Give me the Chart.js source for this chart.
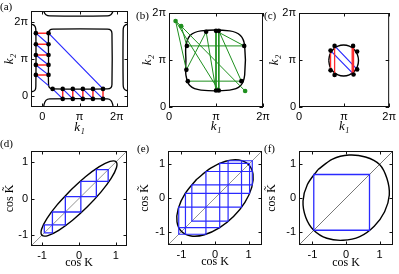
<!DOCTYPE html>
<html>
<head>
<meta charset="utf-8">
<script src="https://cdn.jsdelivr.net/npm/chart.js@4.4.1/dist/chart.umd.min.js"></script>
<style>
  body { margin: 0; background: #fff; }
  #fig { position: relative; width: 399px; height: 274px; overflow: hidden; background: #fff; }
  #fig canvas { position: absolute; }
</style>
</head>
<body>
<div id="fig"></div>
<script>
// ---- tick marks ----
const kTicks = [0, 1, 2];              // k in units of pi
const kTickLabels = ['0', 'π', '2π'];
const cosTicks = [-1, 0, 1];
const cosTickLabels = ['-1', '0', '1'];

// ---- (a) contour pieces, k1/pi vs k2/pi ----
const aInnerX = [0.17, 0.17, 0.20, 0.29, 1.75, 1.84, 1.87, 1.87, 1.84, 1.75, 0.29, 0.20, 0.17, 0.17];
const aInnerY = [1.00, 1.69, 1.78, 1.81, 1.81, 1.78, 1.69, 0.31, 0.22, 0.19, 0.19, 0.22, 0.31, 1.00];
const aLeftX = [-0.35, -0.25, -0.19, -0.17, -0.17, -0.19, -0.25, -0.35];
const aLeftY = [1.94, 1.93, 1.88, 1.78, 0.26, 0.16, 0.12, 0.11];
const aRightX = [2.35, 2.25, 2.19, 2.17, 2.17, 2.19, 2.25, 2.35];
const aRightY = [1.95, 1.93, 1.88, 1.78, 0.30, 0.20, 0.15, 0.14];
const aTopX = [0.04, 0.05, 0.10, 0.20, 1.75, 1.84, 1.89, 1.90];
const aTopY = [2.35, 2.27, 2.20, 2.17, 2.17, 2.20, 2.27, 2.35];
const aBottomX = [0.04, 0.05, 0.10, 0.20, 1.75, 1.84, 1.89, 1.90];
const aBottomY = [-0.35, -0.23, -0.12, -0.08, -0.08, -0.12, -0.23, -0.35];
// (a) orbit segments [x1, y1, x2, y2]
const aRed = [
  [-0.17, 1.70, 0.17, 1.70], [-0.17, 1.40, 0.17, 1.40], [-0.17, 1.11, 0.17, 1.11],
  [-0.17, 0.84, 0.17, 0.84], [-0.17, 0.57, 0.17, 0.57],
  [0.55, -0.08, 0.55, 0.19], [0.82, -0.08, 0.82, 0.19], [1.09, -0.08, 1.09, 0.19],
  [1.36, -0.08, 1.36, 0.19], [1.63, -0.08, 1.63, 0.19]
];
const aBlue = [
  [-0.17, 1.70, 0.17, 1.40], [-0.17, 1.40, 0.17, 1.11], [-0.17, 1.11, 0.17, 0.84],
  [-0.17, 0.84, 0.17, 0.57], [-0.17, 0.57, 0.17, 0.28],
  [0.28, 0.19, 0.55, -0.08], [0.55, 0.19, 0.82, -0.08], [0.82, 0.19, 1.09, -0.08],
  [1.09, 0.19, 1.36, -0.08], [1.36, 0.19, 1.63, -0.08],
  [1.63, 0.19, 0.17, 1.70]
];
const aDotX = [-0.17, 0.17, -0.17, 0.17, -0.17, 0.17, -0.17, 0.17, -0.17, 0.17,
               0.28, 0.55, 0.82, 1.09, 1.36, 1.63, 0.55, 0.82, 1.09, 1.36, 1.63];
const aDotY = [1.70, 1.70, 1.40, 1.40, 1.11, 1.11, 0.84, 0.84, 0.57, 0.57,
               0.19, 0.19, 0.19, 0.19, 0.19, 0.19, -0.08, -0.08, -0.08, -0.08, -0.08];

// ---- (b) ----
const bCurveX = [0.36, 0.36, 0.45, 0.68, 1.29, 1.52, 1.61, 1.61, 1.52, 1.29, 0.68, 0.45, 0.36, 0.36];
const bCurveY = [0.99, 1.30, 1.52, 1.62, 1.62, 1.52, 1.30, 0.68, 0.45, 0.36, 0.36, 0.45, 0.68, 0.99];
const bPathX = [0.40, 1.54, 1.06, 1.06, 0.14, 0.26, 0.38, 1.60, 1.00, 1.00, 0.79, 0.37, 0.14, null, 0.26, 1.62];
const bPathY = [0.55, 0.55, 1.62, 0.35, 1.83, 1.72, 1.30, 1.30, 1.62, 0.35, 1.60, 0.79, 1.83, null, 1.72, 0.34];
const bDotX = [0.79, 1.00, 1.06, 0.38, 1.60, 0.37, 0.40, 1.00, 1.06, 1.54];
const bDotY = [1.60, 1.62, 1.62, 1.30, 1.30, 0.79, 0.55, 0.35, 0.35, 0.55];
const bGreenDotX = [0.14, 0.26, 1.62];
const bGreenDotY = [1.83, 1.72, 0.34];

// ---- (c) ----
const cCurveX = [0.66, 0.685, 0.757, 0.864, 0.99, 1.116, 1.223, 1.295, 1.32, 1.295, 1.223, 1.116, 0.99, 0.864, 0.757, 0.685, 0.66];
const cCurveY = [0.99, 1.116, 1.223, 1.295, 1.32, 1.295, 1.223, 1.116, 0.99, 0.864, 0.757, 0.685, 0.66, 0.685, 0.757, 0.864, 0.99];
const cRed = [[0.70, 0.78, 0.70, 1.20], [0.79, 0.68, 0.79, 1.30], [1.18, 0.69, 1.18, 1.30], [1.21, 0.70, 1.21, 1.29]];
const cBlue = [[0.70, 1.20, 1.21, 0.70], [0.79, 1.30, 1.29, 0.80]];
const cDotX = [0.79, 1.20, 0.70, 1.29, 0.70, 1.29, 0.79, 1.21];
const cDotY = [1.30, 1.30, 1.20, 1.18, 0.78, 0.80, 0.68, 0.69];

// ---- (d)-(f): cos K vs cos K~ ----
const diagEnds = [-1.6, 1.6];
const dEllX = [-0.226, 0.175, 0.550, 0.841, 1.004, 1.014, 0.870, 0.593, 0.226, -0.175, -0.550, -0.841, -1.004, -1.014, -0.870, -0.593];
const dEllY = [0.226, 0.593, 0.870, 1.014, 1.004, 0.841, 0.550, 0.175, -0.226, -0.593, -0.870, -1.014, -1.004, -0.841, -0.550, -0.175];
const dSteps = [-0.94, -0.72, -0.37, 0.05, 0.47, 0.79];

const eEllX = [-0.552, -0.128, 0.315, 0.710, 0.997, 1.132, 1.095, 0.891, 0.552, 0.128, -0.315, -0.710, -0.997, -1.132, -1.095, -0.891];
const eEllY = [0.552, 0.891, 1.095, 1.132, 0.997, 0.710, 0.315, -0.128, -0.552, -0.891, -1.095, -1.132, -0.997, -0.710, -0.315, 0.128];
const eSteps = [1.03, 0.14, -0.88, -1.08, -0.27, 0.79, 1.11, 0.39, -0.69];

const fEllX = [-0.84, -0.40, 0.09, 0.58, 1.00, 1.22, 1.29, 1.15, 0.84, 0.41, -0.09, -0.57, -0.96, -1.20, -1.28, -1.15];
const fEllY = [0.84, 1.16, 1.28, 1.22, 1.00, 0.58, 0.09, -0.41, -0.84, -1.15, -1.26, -1.20, -0.96, -0.57, -0.09, 0.40];
const fSteps = [-0.96, 0.70];

// ---- helpers ----
const fig = document.getElementById('fig');
const BLACK = '#000', BLUE = '#2a2aff', RED = '#ff2a2a', GREEN = '#1e8f1e';

function pts(xs, ys, close) {
  const out = xs.map((x, i) => ({ x: x, y: ys[i] }));
  if (close) out.push({ x: xs[0], y: ys[0] });
  return out;
}
function segs(list) {
  const out = [];
  list.forEach(s => out.push({ x: s[0], y: s[1] }, { x: s[2], y: s[3] }, { x: null, y: null }));
  return out;
}
function boxes(steps) {
  const out = [];
  for (let i = 0; i < steps.length - 1; i++) {
    const p = steps[i], q = steps[i + 1];
    out.push({ x: p, y: p }, { x: p, y: q }, { x: q, y: q }, { x: q, y: p }, { x: p, y: p }, { x: null, y: null });
  }
  return out;
}
function line(data, color, width, tension) {
  return { data: data, showLine: true, borderColor: color, borderWidth: width, pointRadius: 0,
           tension: tension || 0, spanGaps: false, fill: false };
}
function dots(data, color) {
  return { data: data, showLine: false, pointRadius: 2.3, pointBackgroundColor: color,
           pointBorderWidth: 0, backgroundColor: color };
}

const framePlugin = {
  id: 'frame',
  afterDraw(chart, args, opts) {
    const { ctx, chartArea: a, scales: { x, y } } = chart;
    ctx.save();
    ctx.strokeStyle = '#111';
    ctx.lineWidth = 1;
    ctx.strokeRect(a.left + 0.5, a.top + 0.5, a.right - a.left - 1, a.bottom - a.top - 1);
    ctx.beginPath();
    x.ticks.forEach(t => {
      const px = Math.round(x.getPixelForValue(t.value)) + 0.5;
      ctx.moveTo(px, a.bottom); ctx.lineTo(px, a.bottom - 3.5);
      ctx.moveTo(px, a.top); ctx.lineTo(px, a.top + 3.5);
    });
    y.ticks.forEach(t => {
      const py = Math.round(y.getPixelForValue(t.value)) + 0.5;
      ctx.moveTo(a.left, py); ctx.lineTo(a.left + 3.5, py);
      ctx.moveTo(a.right, py); ctx.lineTo(a.right - 3.5, py);
    });
    ctx.stroke();
    ctx.fillStyle = '#000';
    ctx.font = '11px "Liberation Serif", serif';
    ctx.fillText(opts.letter, opts.lx, opts.ly);
    ctx.restore();
  }
};

const tickFont = { family: '"Liberation Sans", Arial, sans-serif', size: 11 };
const kTitleFont = { family: '"Liberation Serif", serif', size: 13, style: 'italic', lineHeight: 1 };
const cosTitleFont = { family: '"Liberation Serif", serif', size: 12, lineHeight: 1 };

function axis(range, vals, labels, title, titleFont, titlePad, size, horizontal) {
  return {
    type: 'linear', min: range[0], max: range[1],
    afterBuildTicks: s => { s.ticks = vals.map(v => ({ value: v })); },
    afterFit: s => { if (horizontal) s.height = size; else s.width = size; },
    grid: { display: false, drawTicks: false },
    border: { display: false },
    ticks: { autoSkip: false, maxRotation: 0, padding: 3, color: '#000', font: tickFont,
             callback: (v, i) => labels[i] },
    title: { display: true, text: title, color: '#000', font: titleFont,
             padding: horizontal ? { top: 0, bottom: titlePad } : { top: titlePad, bottom: 0 } }
  };
}

function makePanel(p) {
  const [bx, by, bw, bh] = p.box;
  const [ax0, ay0, ax1, ay1] = p.area;
  const cv = document.createElement('canvas');
  cv.width = bw; cv.height = bh;
  cv.style.left = bx + 'px'; cv.style.top = by + 'px';
  cv.style.width = bw + 'px'; cv.style.height = bh + 'px';
  fig.appendChild(cv);
  new Chart(cv, {
    type: 'scatter',
    data: { datasets: p.datasets },
    options: {
      responsive: false, animation: false, devicePixelRatio: 1, events: [],
      layout: { padding: { left: 0, bottom: 0, top: ay0 - by, right: bx + bw - ax1 } },
      plugins: {
        legend: { display: false }, tooltip: { enabled: false },
        frame: { letter: p.letter, lx: p.letterAt[0] - bx, ly: p.letterAt[1] - by }
      },
      scales: {
        x: axis(p.range, p.ticks, p.labels, p.xTitle, p.titleFont, p.xPad, by + bh - ay1, true),
        y: axis(p.range, p.ticks, p.labels, p.yTitle, p.titleFont, p.yPad, ax0 - bx, false)
      }
    },
    plugins: [framePlugin]
  });
}

const diag = [{ x: diagEnds[0], y: diagEnds[0] }, { x: diagEnds[1], y: diagEnds[1] }];

makePanel({
  box: [0, 0, 133, 137], area: [31, 11, 128, 107], range: [-0.3, 2.3],
  ticks: kTicks, labels: kTickLabels, xTitle: 'k₁', yTitle: 'k₂', titleFont: kTitleFont,
  xPad: 2.5, yPad: 3.5, letter: '(a)', letterAt: [0, 10],
  datasets: [
    dots(pts(aDotX, aDotY), BLACK),
    line(segs(aRed), RED, 1.5),
    line(segs(aBlue), BLUE, 1.2),
    line(pts(aInnerX, aInnerY), BLACK, 1.3, 0.3),
    line(pts(aLeftX, aLeftY), BLACK, 1.3, 0.3),
    line(pts(aRightX, aRightY), BLACK, 1.3, 0.3),
    line(pts(aTopX, aTopY), BLACK, 1.3, 0.3),
    line(pts(aBottomX, aBottomY), BLACK, 1.3, 0.3)
  ]
});

makePanel({
  box: [133, 0, 145, 137], area: [169, 13, 263, 107], range: [0, 2],
  ticks: kTicks, labels: kTickLabels, xTitle: 'k₁', yTitle: 'k₂', titleFont: kTitleFont,
  xPad: 3.5, yPad: 8.5, letter: '(b)', letterAt: [136, 19],
  datasets: [
    dots(pts(bDotX, bDotY), BLACK),
    dots(pts(bGreenDotX, bGreenDotY), GREEN),
    line(pts(bPathX, bPathY), GREEN, 1),
    line(pts(bCurveX, bCurveY), BLACK, 1.4, 0.3)
  ]
});

makePanel({
  box: [258, 0, 141, 137], area: [299, 13, 393, 107], range: [0, 2],
  ticks: kTicks, labels: kTickLabels, xTitle: 'k₁', yTitle: 'k₂', titleFont: kTitleFont,
  xPad: 3.5, yPad: 10.5, letter: '(c)', letterAt: [264, 19],
  datasets: [
    dots(pts(cDotX, cDotY), BLACK),
    line(segs(cRed), RED, 1.3),
    line(segs(cBlue), BLUE, 1.2),
    line(pts(cCurveX, cCurveY), BLACK, 1.4, 0.35)
  ]
});

makePanel({
  box: [0, 137, 133, 137], area: [31, 151, 127, 246], range: [-1.3, 1.3],
  ticks: cosTicks, labels: cosTickLabels, xTitle: 'cos K', yTitle: 'cos K\u0303', titleFont: cosTitleFont,
  xPad: 5, yPad: 4, letter: '(d)', letterAt: [0, 147],
  datasets: [
    line(boxes(dSteps), BLUE, 1.3),
    line(pts(dEllX, dEllY, true), BLACK, 1.4, 0.35),
    line(diag, '#777', 0.8)
  ]
});

makePanel({
  box: [133, 137, 133, 137], area: [168, 151, 262, 245], range: [-1.4, 1.4],
  ticks: cosTicks, labels: cosTickLabels, xTitle: 'cos K', yTitle: 'cos K\u0303', titleFont: cosTitleFont,
  xPad: 6, yPad: 6, letter: '(e)', letterAt: [137, 152],
  datasets: [
    line(boxes(eSteps), BLUE, 1.2),
    line(pts(eEllX, eEllY, true), BLACK, 1.4, 0.35),
    line(diag, '#777', 0.8)
  ]
});

makePanel({
  box: [258, 137, 141, 137], area: [299, 151, 393, 245], range: [-1.4, 1.4],
  ticks: cosTicks, labels: cosTickLabels, xTitle: 'cos K', yTitle: 'cos K\u0303', titleFont: cosTitleFont,
  xPad: 5, yPad: 8, letter: '(f)', letterAt: [264, 152],
  datasets: [
    line(boxes(fSteps), BLUE, 1.3),
    line(pts(fEllX, fEllY, true), BLACK, 1.4, 0.35),
    line(diag, '#555', 0.8)
  ]
});
</script>
</body>
</html>
